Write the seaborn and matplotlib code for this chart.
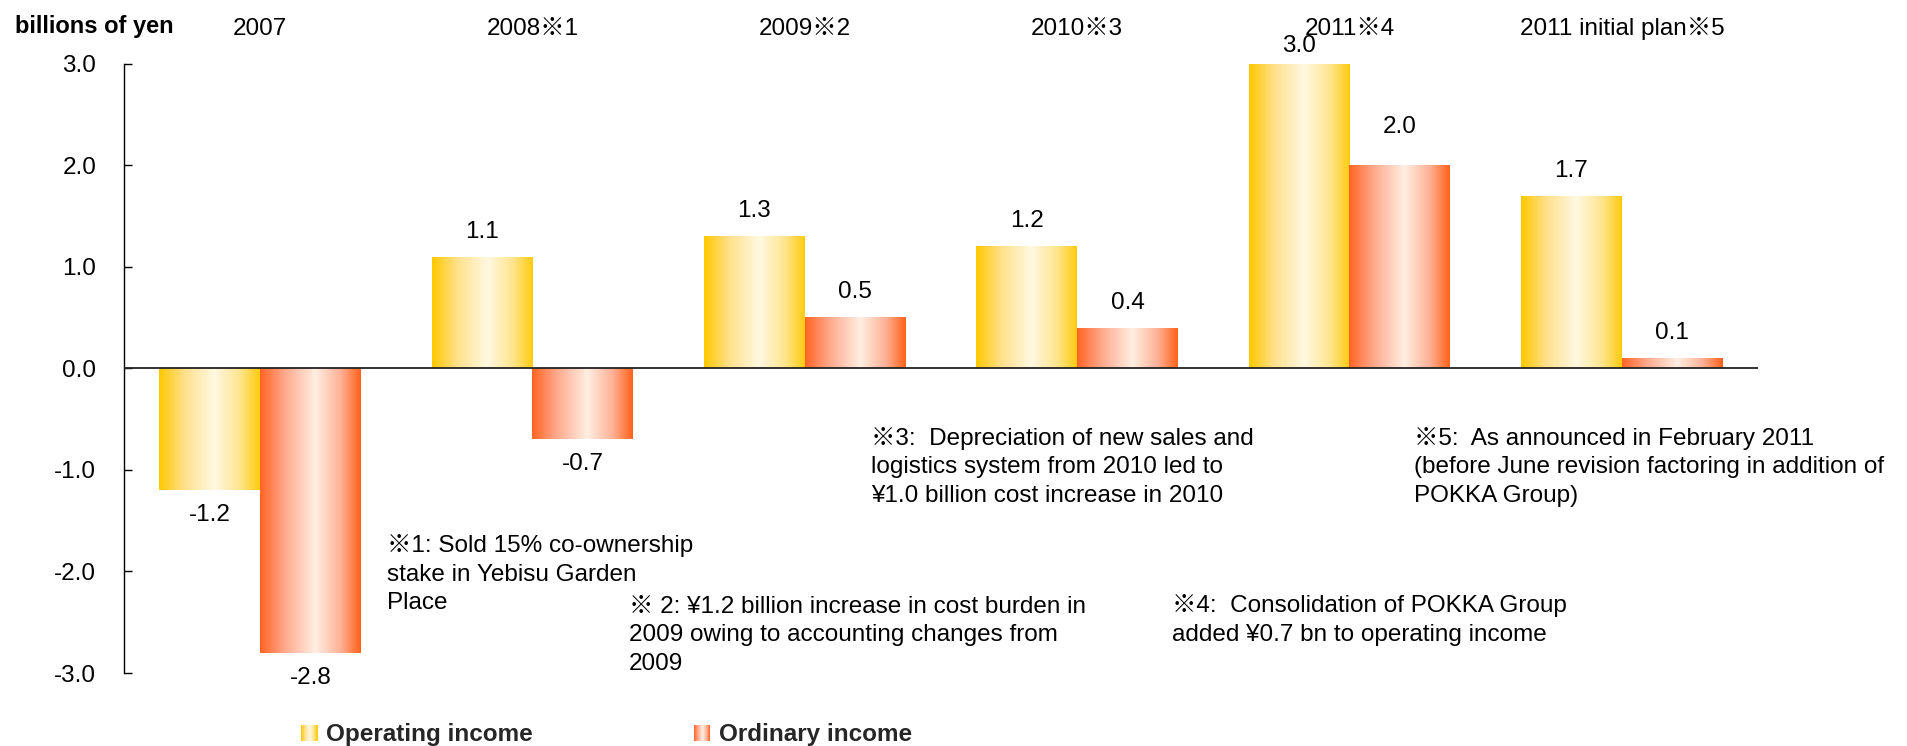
import numpy as np
import pandas as pd
import matplotlib
matplotlib.use("Agg")
import matplotlib.pyplot as plt
import seaborn as sns
from matplotlib.colors import LinearSegmentedColormap
from matplotlib.legend_handler import HandlerBase
from matplotlib.patches import Rectangle

# ---------------- data ----------------
categories = ['2007', '2008※1', '2009※2', '2010※3', '2011※4', '2011 initial plan※5']
operating_income = [-1.2, 1.1, 1.3, 1.2, 3.0, 1.7]
ordinary_income = [-2.8, -0.7, 0.5, 0.4, 2.0, 0.1]
series_names = ['Operating income', 'Ordinary income']
y_ticks = [-3.0, -2.0, -1.0, 0.0, 1.0, 2.0, 3.0]
unit_label = 'billions of yen'

notes = [
    "※1: Sold 15% co-ownership\nstake in Yebisu Garden\nPlace",
    "※ 2: ¥1.2 billion increase in cost burden in\n2009 owing to accounting changes from\n2009",
    "※3:  Depreciation of new sales and\nlogistics system from 2010 led to\n¥1.0 billion cost increase in 2010",
    "※4:  Consolidation of POKKA Group\nadded ¥0.7 bn to operating income",
    "※5:  As announced in February 2011\n(before June revision factoring in addition of\nPOKKA Group)",
]
# note positions in figure pixels (left x, first-line centre y)
note_pos = [(387, 543), (629, 604), (871, 436), (1172, 603), (1414, 436)]

df = pd.DataFrame({
    'category': categories * 2,
    'series': [series_names[0]] * len(categories) + [series_names[1]] * len(categories),
    'value': operating_income + ordinary_income,
})

# ---------------- style ----------------
sns.set_theme(style='white')
plt.rcParams['font.family'] = ['Liberation Sans', 'Noto Sans CJK JP', 'DejaVu Sans']
FS = 17.5
LINE_PX = 28.8

W, H = 1908, 746
fig = plt.figure(figsize=(W / 100, H / 100), dpi=100)
ax = fig.add_axes([124 / W, 1 - 673 / H, (1758 - 124) / W, (673 - 63.5) / H])

cmap_op = LinearSegmentedColormap.from_list(
    'op', [(0.0, '#FFC800'), (0.25, '#FFE08A'), (0.55, '#FFF8E2'), (0.8, '#FFE58F'), (1.0, '#FFCB10')])
cmap_ord = LinearSegmentedColormap.from_list(
    'ord', [(0.0, '#FF6424'), (0.25, '#FFAA8E'), (0.55, '#FFEEE2'), (0.8, '#FFB196'), (1.0, '#FF621A')])
cmaps = [cmap_op, cmap_ord]

sns.barplot(data=df, x='category', y='value', hue='series', hue_order=series_names,
            palette=['#FFD54A', '#FF8A5A'], width=0.74, saturation=1, errorbar=None,
            legend=False, ax=ax)

grad = np.linspace(0, 1, 256).reshape(1, -1)
for container, cmap in zip(ax.containers, cmaps):
    for bar in container:
        x0, y0 = bar.get_x(), bar.get_y()
        w, h = bar.get_width(), bar.get_height()
        bar.set_facecolor('none')
        bar.set_edgecolor('none')
        im = ax.imshow(grad, cmap=cmap, extent=[x0, x0 + w, y0, y0 + h], aspect='auto',
                       interpolation='bilinear', zorder=2)
        im.set_clip_path(bar)

# value labels
extra = {(4, 0): -7, (4, 1): 13}
for si, container in enumerate(ax.containers):
    for ci, bar in enumerate(container):
        v = bar.get_height()
        xc = bar.get_x() + bar.get_width() / 2
        off = 25 + extra.get((ci, si), 0)
        off_pt = off * 72 / 100
        ax.annotate(f"{v:.1f}", xy=(xc, v), xytext=(0, off_pt if v >= 0 else -off_pt),
                    textcoords='offset points', ha='center', va='center', fontsize=FS,
                    color='black', zorder=5)

ax.set_xlim(-0.5, len(categories) - 0.5)
ax.set_ylim(-3.0, 3.0)
ax.set_yticks(y_ticks)
ax.set_yticklabels([f"{t:.1f}" for t in y_ticks])
ax.axhline(0, color='#222222', lw=1.3, zorder=3)

ax.xaxis.tick_top()
ax.tick_params(axis='x', length=0, pad=17, labelsize=FS, colors='black')
ax.tick_params(axis='y', direction='in', length=6, width=1.0, pad=20, labelsize=FS,
               colors='black', left=True)
ax.set_xlabel('')
ax.set_ylabel('')
for s in ['top', 'right', 'bottom']:
    ax.spines[s].set_visible(False)
ax.spines['left'].set_color('black')
ax.spines['left'].set_linewidth(1.0)
ax.set_facecolor('white')

fig.text(15 / W, 1 - 27 / H, unit_label, ha='left', va='center', fontsize=17,
         fontweight='bold', color='black')

for txt, (px, py) in zip(notes, note_pos):
    n = txt.count('\n')
    y_last_base = py + 8.7 + n * LINE_PX
    fig.text(px / W, 1 - y_last_base / H, txt, ha='left', va='baseline', fontsize=FS,
             color='black', linespacing=1.4)


class GradHandler(HandlerBase):
    def __init__(self, cmap):
        super().__init__()
        self.cmap = cmap

    def create_artists(self, legend, orig_handle, xdescent, ydescent, width, height,
                       fontsize, trans):
        n = 16
        arts = []
        for i in range(n):
            arts.append(Rectangle((-xdescent + width * i / n, -ydescent), width / n, height,
                                  facecolor=self.cmap((i + 0.5) / n), edgecolor='none',
                                  transform=trans))
        return arts


handles = list(ax.containers)
leg = fig.legend(handles, series_names, loc='center left',
                 bbox_to_anchor=(301 / W, 1 - 735 / H), ncol=2, frameon=False,
                 handlelength=0.68, handleheight=0.68, handletextpad=0.35,
                 columnspacing=6.63, borderpad=0, borderaxespad=0,
                 prop={'size': FS, 'weight': 'bold'},
                 handler_map={handles[0]: GradHandler(cmap_op), handles[1]: GradHandler(cmap_ord)})

fig.savefig('out.png', dpi=100, facecolor='white')
